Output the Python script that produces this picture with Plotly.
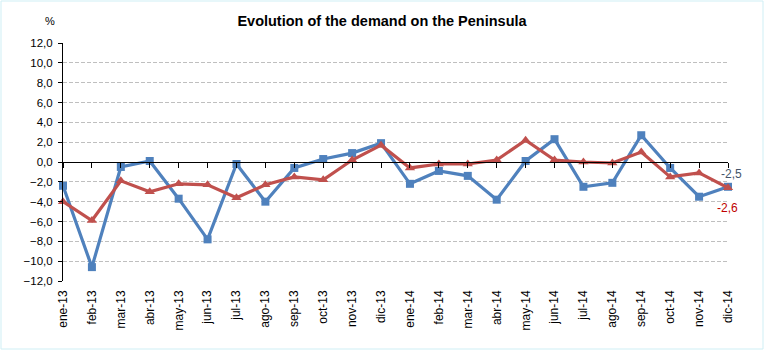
import plotly.graph_objects as go

months = ["ene-13","feb-13","mar-13","abr-13","may-13","jun-13","jul-13","ago-13","sep-13","oct-13","nov-13","dic-13",
          "ene-14","feb-14","mar-14","abr-14","may-14","jun-14","jul-14","ago-14","sep-14","oct-14","nov-14","dic-14"]
blue_vals = [-2.4,-10.6,-0.5,0.1,-3.7,-7.8,-0.2,-4.0,-0.6,0.3,0.9,1.9,
             -2.2,-0.9,-1.4,-3.8,0.1,2.3,-2.5,-2.1,2.7,-0.6,-3.5,-2.5]
red_vals = [-4.0,-5.9,-1.9,-3.0,-2.2,-2.3,-3.6,-2.3,-1.5,-1.8,0.2,1.7,
            -0.6,-0.2,-0.2,0.2,2.2,0.2,0.0,-0.1,1.0,-1.5,-1.1,-2.6]
y_ticks = list(range(-12, 13, 2))

BLUE = "#4F81BD"
RED = "#C0504D"
FONT = "Liberation Sans, Arial, sans-serif"

xpos = list(range(len(months)))

fig = go.Figure()
fig.add_trace(go.Scatter(x=xpos, y=blue_vals, mode="lines+markers",
                         line=dict(color=BLUE, width=3.2),
                         marker=dict(symbol="square", size=8, color=BLUE),
                         cliponaxis=False, showlegend=False, hoverinfo="skip"))
fig.add_trace(go.Scatter(x=xpos, y=red_vals, mode="lines+markers",
                         line=dict(color=RED, width=3.2),
                         marker=dict(symbol="triangle-up", size=9, color=RED),
                         cliponaxis=False, showlegend=False, hoverinfo="skip"))

def fmt(v):
    return f"{v:.1f}".replace(".", ",")

W, H = 765, 351
ml, mr, mt, mb = 63, 37, 43, 70
pw, ph = W - ml - mr, H - mt - mb

fig.update_layout(
    width=W, height=H,
    margin=dict(l=ml, r=mr, t=mt, b=mb),
    paper_bgcolor="white", plot_bgcolor="white",
    separators=",.",
    font=dict(family=FONT, size=11, color="black"),
    title=dict(text="<b>Evolution of the demand on the Peninsula</b>",
               x=382/W, xanchor="center", y=1-21/H, yanchor="middle",
               font=dict(family=FONT, size=14.5, color="black")),
    xaxis=dict(range=[0, 23], tickmode="array", tickvals=xpos, ticktext=months,
               tickangle=-90, showgrid=False, zeroline=False, showline=False,
               ticks="", tickfont=dict(size=12), ticklabelstandoff=6),
    xaxis2=dict(range=[0, 23], overlaying="x", anchor="free", position=0.5,
                side="bottom", tickmode="array", tickvals=xpos, showticklabels=False,
                showline=True, linecolor="black", linewidth=1, ticks="outside",
                ticklen=5, tickcolor="black", showgrid=False, zeroline=False),
    yaxis=dict(range=[-12, 12], tickmode="array", tickvals=y_ticks, tickformat=".1f",
               showgrid=True, gridcolor="#BFBFBF", griddash="4px,2px", gridwidth=1,
               zeroline=True, zerolinecolor="black", zerolinewidth=1,
               showline=True, linecolor="black", linewidth=1,
               ticks="outside", ticklen=4, tickcolor="black",
               tickfont=dict(size=11.5), ticklabelstandoff=3),
)

# dummy trace to activate xaxis2
fig.add_trace(go.Scatter(x=[None], y=[None], xaxis="x2", showlegend=False, hoverinfo="skip"))

fig.add_annotation(x=xpos[-1], y=blue_vals[-1], text=fmt(blue_vals[-1]), showarrow=False,
                   xshift=3, yshift=13, font=dict(size=12, color="#44546A"))
fig.add_annotation(x=xpos[-1], y=red_vals[-1], text=fmt(red_vals[-1]), showarrow=False,
                   xshift=-1, yshift=-20, font=dict(size=12, color="#C00000"))
fig.add_annotation(xref="paper", yref="paper", x=(42.7-ml)/pw, y=1+(mt-13)/ph,
                   text="%", showarrow=False, font=dict(size=11, color="black"))

fig.add_shape(type="rect", xref="paper", yref="paper",
              x0=-(ml-1)/pw, x1=1+(mr-2)/pw, y0=-(mb-2)/ph, y1=1+(mt-1)/ph,
              line=dict(color="#CFEFF5", width=1), fillcolor="rgba(0,0,0,0)", layer="below")

fig.write_html("out.html")
